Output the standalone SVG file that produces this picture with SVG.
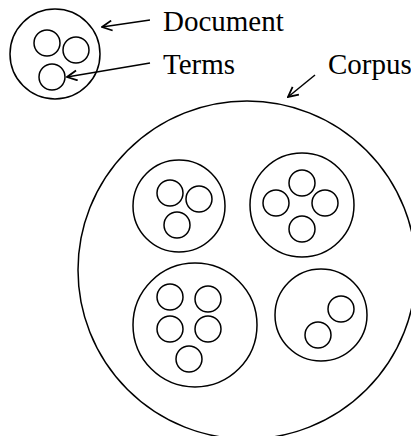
<svg xmlns="http://www.w3.org/2000/svg" width="411" height="436" viewBox="0 0 411 436">
  <style>
    .c { fill: none; stroke: #000; stroke-width: 1.5; }
    .t { fill: none; stroke: #000; stroke-width: 1.5; }
    .lbl { font-family: "Liberation Serif", "Times New Roman", serif; font-size: 29px; fill: #000; }
    .ar { fill: none; stroke: #000; stroke-width: 1.5; }
  </style>
  <defs>
    <marker id="head" viewBox="0 0 12 12" refX="11" refY="6" markerWidth="12" markerHeight="12" markerUnits="userSpaceOnUse" orient="auto">
      <polyline points="1,1 11,6 1,11" fill="none" stroke="#000" stroke-width="1.8" stroke-linejoin="miter"/>
    </marker>
  </defs>

  <rect width="411" height="436" fill="#fff"/>

  <!-- sample document with its terms -->
  <g id="document">
    <circle class="c" cx="55" cy="54" r="45"/>
    <circle class="t" cx="47" cy="43" r="13"/>
    <circle class="t" cx="76" cy="50" r="13"/>
    <circle class="t" cx="52" cy="77" r="13"/>
  </g>

  <!-- corpus holding four documents -->
  <g id="corpus">
    <circle class="c" cx="247" cy="270" r="169"/>
  </g>
  <g id="doc-a">
    <circle class="c" cx="179" cy="206" r="46"/>
    <circle class="t" cx="170" cy="193" r="13"/>
    <circle class="t" cx="199" cy="199" r="13"/>
    <circle class="t" cx="177" cy="225" r="13"/>
  </g>
  <g id="doc-b">
    <circle class="c" cx="302" cy="205" r="52"/>
    <circle class="t" cx="302" cy="183" r="13"/>
    <circle class="t" cx="276" cy="203" r="13"/>
    <circle class="t" cx="325" cy="203" r="13"/>
    <circle class="t" cx="302" cy="229" r="13"/>
  </g>
  <g id="doc-c">
    <circle class="c" cx="195" cy="325" r="62"/>
    <circle class="t" cx="170" cy="297" r="13"/>
    <circle class="t" cx="208" cy="299" r="13"/>
    <circle class="t" cx="170" cy="329" r="13"/>
    <circle class="t" cx="208" cy="329" r="13"/>
    <circle class="t" cx="189" cy="359" r="13"/>
  </g>
  <g id="doc-d">
    <circle class="c" cx="321" cy="315" r="46"/>
    <circle class="t" cx="341" cy="309" r="13"/>
    <circle class="t" cx="318" cy="335" r="13"/>
  </g>

  <!-- label pointers -->
  <g id="connectors">
    <line class="ar" x1="150" y1="20" x2="102" y2="27" marker-end="url(#head)"/>
    <line class="ar" x1="150" y1="63" x2="67" y2="77" marker-end="url(#head)"/>
    <line class="ar" x1="315" y1="75" x2="288" y2="97" marker-end="url(#head)"/>
  </g>

  <g id="labels">
    <text class="lbl" x="163" y="31">Document</text>
    <text class="lbl" x="163" y="74">Terms</text>
    <text class="lbl" x="328" y="74">Corpus</text>
  </g>
</svg>
